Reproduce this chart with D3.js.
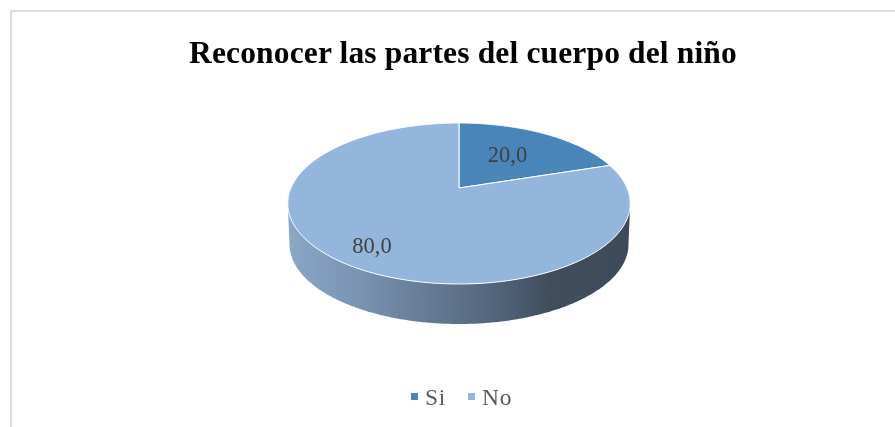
<!DOCTYPE html>
<html>
<head>
<meta charset="utf-8">
<script src="https://cdn.jsdelivr.net/npm/d3@7"></script>
<style>
html, body { margin: 0; padding: 0; background: #fff; overflow: hidden; }
svg { display: block; }
text { font-family: "Liberation Serif", serif; }
</style>
</head>
<body>
<svg id="chart" width="895" height="427"></svg>
<script>
var categories = ['Si', 'No'];
var values = [20.0, 80.0];
var colors = ['#4a85ba', '#94b6dd'];
var title = 'Reconocer las partes del cuerpo del ni\u00f1o';

var svg = d3.select('#chart');

// chart frame, only top and left are in view
svg.append('path')
    .attr('d', 'M11,427V11H895')
    .attr('fill', 'none')
    .attr('stroke', '#dcdcdc')
    .attr('stroke-width', 2);

var g = svg.append('g').style('filter', 'blur(0.5px)');

g.append('text')
    .attr('x', 463)
    .attr('y', 63)
    .attr('text-anchor', 'middle')
    .attr('font-size', 31.5)
    .attr('font-weight', 'bold')
    .attr('letter-spacing', 0.15)
    .attr('fill', '#000')
    .text(title);

// the pie is a flat circle seen in perspective
var cfg = {x0: 459, y0: 188, a: 168, b: 77.5, k: 0.1925, depth: 41, shrink: 0.99};

function project(angle, r, drop, scale) {
    var u = Math.sin(angle) * r,
        v = Math.cos(angle) * r,
        w = 1 + cfg.k * v;
    return [cfg.x0 + cfg.a * scale * u / w, cfg.y0 + drop - cfg.b * scale * v / w];
}

var line = d3.line();

function arcPoints(a0, a1, drop, scale) {
    var n = Math.max(2, Math.ceil(Math.abs(a1 - a0) / 0.01));
    return d3.range(n + 1).map(function(i) {
        return project(a0 + (a1 - a0) * i / n, 1, drop, scale);
    });
}

var defs = svg.append('defs');
var grad = defs.append('linearGradient')
    .attr('id', 'side')
    .attr('gradientUnits', 'userSpaceOnUse')
    .attr('x1', 288).attr('x2', 631)
    .attr('y1', 0).attr('y2', 0);
[[0, '#8ba7c6'], [0.2, '#7a94b2'], [0.45, '#617690'], [0.65, '#4e5f74'], [0.76, '#3f4d5d'], [1, '#3d4a59']]
    .forEach(function(s) {
        grad.append('stop').attr('offset', s[0]).attr('stop-color', s[1]);
    });

var pie = d3.pie().sort(null).value(function(d) { return d; });
var slices = pie(values);

// front wall, from the right extreme round to the left extreme
var wallStart = Math.PI * 0.5 + Math.asin(cfg.k),
    wallEnd = Math.PI * 1.5 - Math.asin(cfg.k);
var topEdge = arcPoints(wallStart, wallEnd, 0, 1),
    bottomEdge = arcPoints(wallEnd, wallStart, cfg.depth, cfg.shrink);

g.append('path')
    .attr('d', line(topEdge.concat(bottomEdge)) + 'Z')
    .attr('fill', 'url(#side)');

// top face
g.selectAll('.slice')
    .data(slices)
    .enter()
    .append('path')
    .attr('class', 'slice')
    .attr('d', function(d) {
        return line([[cfg.x0, cfg.y0]].concat(arcPoints(d.startAngle, d.endAngle, 0, 1))) + 'Z';
    })
    .attr('fill', function(d, i) { return colors[i]; })
    .attr('stroke', '#fff')
    .attr('stroke-width', 1)
    .attr('stroke-linejoin', 'round');

// data labels
var labelPos = [[507.5, 155], [372, 246]];
g.selectAll('.value')
    .data(values)
    .enter()
    .append('text')
    .attr('class', 'value')
    .attr('x', function(d, i) { return labelPos[i][0]; })
    .attr('y', function(d, i) { return labelPos[i][1] + 7; })
    .attr('text-anchor', 'middle')
    .attr('font-size', 22.5)
    .attr('fill', '#404040')
    .text(function(d) { return d.toFixed(1).replace('.', ','); });

// legend
var legendX = [411, 468];
var legend = g.selectAll('.legend')
    .data(categories)
    .enter()
    .append('g')
    .attr('class', 'legend')
    .attr('transform', function(d, i) { return 'translate(' + legendX[i] + ',393)'; });

legend.append('rect')
    .attr('width', 7)
    .attr('height', 7)
    .attr('fill', function(d, i) { return colors[i]; });

legend.append('text')
    .attr('x', 14)
    .attr('y', 12)
    .attr('font-size', 23.5)
    .attr('letter-spacing', 0.8)
    .attr('fill', '#595959')
    .text(function(d) { return d; });
</script>
</body>
</html>
